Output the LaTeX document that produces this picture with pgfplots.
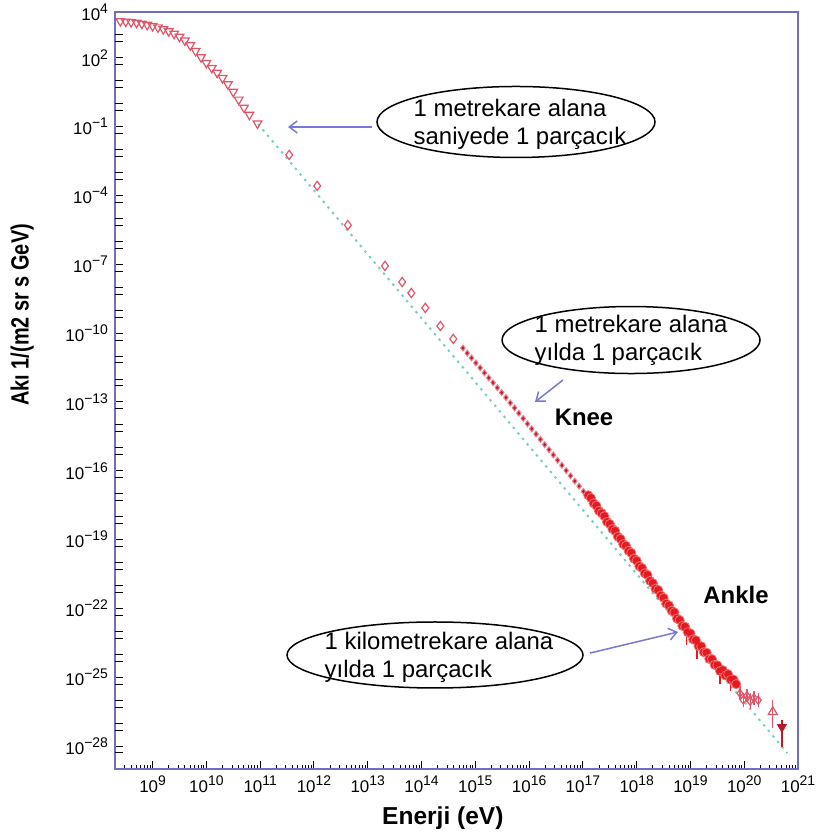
\documentclass[border=0pt]{standalone}
\usepackage{pgfplots}
\pgfplotsset{compat=1.18}
\usepackage{graphicx}
\usepackage{fontspec}
\setmainfont{Liberation Sans}
\usetikzlibrary{arrows.meta}
\definecolor{framec}{RGB}{110,110,200}
\definecolor{arrowc}{RGB}{120,120,215}
\definecolor{trired}{RGB}{225,85,105}
\definecolor{dotred}{RGB}{185,25,45}
\definecolor{dothalo}{RGB}{240,130,140}
\definecolor{bandred}{RGB}{230,25,30}
\definecolor{refline}{RGB}{120,205,195}
\newcommand\tl[2]{#1\raisebox{0.42em}{\fontsize{7}{8}\selectfont #2}}
\begin{document}
\begin{tikzpicture}
\begin{axis}[
  xmode=log, ymode=log,
  scale only axis, width=341.5bp, height=378.5bp,
  xmin=2e8, xmax=1e21, ymin=1e-29, ymax=1e4,
  axis line style={draw=framec, line width=0.9bp},
  tick style={black, line width=0.5bp},
  major tick length=4bp, minor tick length=2bp,
  tick align=inside, tick pos=left,
  xtick={1e9,1e10,1e11,1e12,1e13,1e14,1e15,1e16,1e17,1e18,1e19,1e20,1e21},
  xticklabels={\tl{10}{9},\tl{10}{10},\tl{10}{11},\tl{10}{12},\tl{10}{13},\tl{10}{14},\tl{10}{15},\tl{10}{16},\tl{10}{17},\tl{10}{18},\tl{10}{19},\tl{10}{20},\tl{10}{21}},
  minor xtick={3e8,4e8,5e8,6e8,7e8,8e8,9e8,
    2e9,3e9,4e9,5e9,6e9,7e9,8e9,9e9,
    2e10,3e10,4e10,5e10,6e10,7e10,8e10,9e10,
    2e11,3e11,4e11,5e11,6e11,7e11,8e11,9e11,
    2e12,3e12,4e12,5e12,6e12,7e12,8e12,9e12,
    2e13,3e13,4e13,5e13,6e13,7e13,8e13,9e13,
    2e14,3e14,4e14,5e14,6e14,7e14,8e14,9e14,
    2e15,3e15,4e15,5e15,6e15,7e15,8e15,9e15,
    2e16,3e16,4e16,5e16,6e16,7e16,8e16,9e16,
    2e17,3e17,4e17,5e17,6e17,7e17,8e17,9e17,
    2e18,3e18,4e18,5e18,6e18,7e18,8e18,9e18,
    2e19,3e19,4e19,5e19,6e19,7e19,8e19,9e19,
    2e20,3e20,4e20,5e20,6e20,7e20,8e20,9e20},
  ytick={1e-28,1e-25,1e-22,1e-19,1e-16,1e-13,1e-10,1e-7,1e-4,1e-1,1e2,1e4},
  yticklabels={\tl{10}{−28},\tl{10}{−25},\tl{10}{−22},\tl{10}{−19},\tl{10}{−16},\tl{10}{−13},\tl{10}{−10},\tl{10}{−7},\tl{10}{−4},\tl{10}{−1},\tl{10}{2},\tl{10}{4}},
  minor y tick num=0,
  extra y ticks={1e-27,1e-26,1e-24,1e-23,1e-21,1e-20,1e-18,1e-17,1e-15,1e-14,1e-12,1e-11,1e-9,1e-8,1e-6,1e-5,1e-3,1e-2,1e0,1e1,1e3,
    5e-29,5e-28,5e-27,5e-26,5e-25,5e-24,5e-23,5e-22,5e-21,5e-20,5e-19,5e-18,5e-17,5e-16,5e-15,5e-14,5e-13,5e-12,5e-11,5e-10,5e-9,5e-8,5e-7,5e-6,5e-5,5e-4,5e-3,5e-2,5e-1,5e0,5e1,5e2,5e3},
  extra y tick labels={},
  ticklabel style={font=\fontsize{8.5}{10}\selectfont},
  clip=false,
]
% reference power-law line
\addplot[refline, line width=1bp, dash pattern=on 1.2bp off 2.4bp] coordinates {(9.120e10,0.1318) (6.310e20,5.012e-29)};
% low-energy open triangles
\addplot[only marks, color=trired, mark=triangle, mark size=2.5bp, mark options={rotate=180, line width=0.6bp}] coordinates {
(2.512e8,3981) (3.162e8,3802) (3.981e8,3631) (5.012e8,3388) (6.310e8,3090) (7.943e8,2754)
(1e9,2455) (1.259e9,2138) (1.585e9,1778) (1.995e9,1445) (2.512e9,1122) (3.162e9,831.8)
(3.981e9,575.4) (5.012e9,354.8) (6.310e9,199.5) (7.943e9,107.2) (1e10,60.26) (1.259e10,36.31)
(1.585e10,22.39) (1.995e10,13.18) (2.512e10,7.079) (3.162e10,3.311) (3.981e10,1.514)
(5.012e10,0.6761) (6.310e10,0.3311) (8.913e10,0.1380)};
% open diamonds
\addplot[only marks, color=trired, mark=diamond, mark size=2.3bp, mark options={line width=0.6bp}] coordinates {
(3.467e11,5.888e-3) (1.148e12,2.630e-4) (4.266e12,5.129e-6) (2.089e13,8.511e-8)
(4.365e13,1.698e-8) (6.457e13,5.623e-9) (1.175e14,1.259e-9) (2.239e14,2.042e-10) (3.890e14,5.623e-11)};
% small dots
\addplot[only marks, mark=diamond*, mark size=1.5bp, mark options={draw=dothalo, fill=dotred, line width=0.5bp}] coordinates {
(5.888e14,2.239e-11) (7.079e14,1.349e-11) (8.511e14,8.318e-12) (1.023e15,5.012e-12) (1.230e15,3.090e-12)
(1.479e15,1.862e-12) (1.778e15,1.122e-12) (2.138e15,6.918e-13) (2.570e15,4.169e-13) (3.090e15,2.570e-13)
(3.715e15,1.549e-13) (4.467e15,9.120e-14) (5.370e15,5.495e-14) (6.457e15,3.236e-14) (7.762e15,1.905e-14)
(9.333e15,1.122e-14) (1.122e16,6.761e-15) (1.349e16,3.981e-15) (1.622e16,2.344e-15) (1.950e16,1.380e-15)
(2.344e16,8.318e-16) (2.818e16,4.898e-16) (3.388e16,2.884e-16) (4.074e16,1.738e-16) (4.898e16,1.023e-16)
(5.888e16,6.026e-17) (7.079e16,3.548e-17) (8.511e16,2.138e-17) (1.023e17,1.259e-17) (1.230e17,7.413e-18)};
% dense high-energy band
\addplot[only marks, mark=*, mark size=2.3bp, mark options={draw=bandred!60!white, fill=bandred, line width=0.4bp}] coordinates {
(1.259e17,8.511e-18) (1.413e17,6.457e-18) (1.585e17,3.802e-18) (1.778e17,3.020e-18) (1.995e17,1.778e-18)
(2.239e17,1.413e-18) (2.512e17,1.047e-18) (2.818e17,5.888e-19) (3.162e17,4.786e-19) (3.548e17,2.884e-19)
(3.981e17,2.399e-19) (4.467e17,1.349e-19) (5.012e17,1.072e-19) (5.623e17,6.310e-20) (6.310e17,5.370e-20)
(7.079e17,3.236e-20) (7.943e17,2.630e-20) (8.913e17,1.479e-20) (1.000e18,1.202e-20) (1.122e18,6.918e-21)
(1.259e18,5.754e-21) (1.413e18,3.388e-21) (1.585e18,2.884e-21) (1.778e18,1.585e-21) (1.995e18,1.259e-21)
(2.239e18,7.244e-22) (2.512e18,6.310e-22) (2.818e18,3.631e-22) (3.162e18,2.884e-22) (3.548e18,1.622e-22)
(3.981e18,1.349e-22) (4.467e18,7.943e-23) (5.012e18,6.761e-23) (5.623e18,3.631e-23) (6.310e18,3.090e-23)
(7.079e18,1.738e-23) (7.943e18,1.585e-23) (8.913e18,9.120e-24) (1.000e19,8.128e-24) (1.122e19,4.467e-24)
(1.259e19,4.074e-24) (1.413e19,2.291e-24) (1.585e19,2.239e-24) (1.778e19,1.230e-24) (1.995e19,1.175e-24)
(2.239e19,6.310e-25) (2.512e19,6.166e-25) (2.818e19,3.467e-25) (3.162e19,3.311e-25) (3.548e19,1.862e-25)
(3.981e19,2.042e-25) (4.467e19,1.202e-25) (5.012e19,1.349e-25) (5.623e19,7.762e-26) (6.310e19,7.943e-26)
(7.079e19,5.012e-26)};
% band error bars
\addplot[only marks, color=bandred, mark=*, mark size=1.2bp,
  error bars/.cd, y dir=both, y explicit, error mark=none, error bar style={bandred, line width=0.6bp}]
  table[x=x, y=y, y error plus=ep, y error minus=em] {
x y ep em
8.511e18 1e-23 2.6e-24 7.49e-24
1.318e19 3.548e-24 9.2e-25 2.917e-24
3.548e19 1.995e-25 8.2e-26 1.494e-25
5.623e19 8.913e-26 6.94e-26 6.40e-26
};
% highest-energy scatter
\addplot[only marks, color=trired, mark=diamond, mark size=2bp, mark options={line width=0.6bp},
  error bars/.cd, y dir=both, y explicit, error mark=none, error bar style={trired, line width=0.6bp}]
  table[x=x, y=y, y error plus=ep, y error minus=em] {
x y ep em
8.318e19 1.995e-26 1.99e-26 1.0e-26
9.550e19 1.023e-26 1.02e-26 5.1e-27
1.122e20 1.585e-26 1.58e-26 7.9e-27
1.288e20 8.913e-27 1.10e-26 4.93e-27
1.514e20 1.259e-26 1.25e-26 6.3e-27
1.820e20 1.000e-26 1.0e-26 5.0e-27
};
\addplot[only marks, color=trired, mark=triangle, mark size=2.6bp, mark options={line width=0.6bp},
  error bars/.cd, y dir=both, y explicit, error mark=none, error bar style={trired, line width=0.6bp}]
  table[x=x, y=y, y error plus=ep, y error minus=em] {
x y ep em
3.388e20 3.090e-27 6.9e-27 2.46e-27
};
\addplot[only marks, color=dotred, mark=triangle*, mark size=2.6bp, mark options={rotate=180},
  error bars/.cd, y dir=both, y explicit, error mark=none, error bar style={dotred, line width=0.6bp}]
  table[x=x, y=y, y error plus=ep, y error minus=em] {
x y ep em
5.012e20 6.761e-28 7.0e-28 5.85e-28
};
% annotations
\draw[black, line width=0.75bp] (rel axis cs:0.5871,0.8547) ellipse [x radius=69.5bp, y radius=17.75bp];
\node[align=left, font=\fontsize{12}{14}\selectfont] at (rel axis cs:0.5930,0.8520) {1 metrekare alana\\saniyede 1 parçacık};
\draw[black, line width=0.75bp] (rel axis cs:0.7555,0.5667) ellipse [x radius=64.5bp, y radius=16.75bp];
\node[align=left, font=\fontsize{12}{14}\selectfont] at (rel axis cs:0.7555,0.5667) {1 metrekare alana\\yılda 1 parçacık};
\draw[black, line width=0.75bp] (rel axis cs:0.4685,0.1506) ellipse [x radius=74bp, y radius=16.5bp];
\node[align=left, font=\fontsize{12}{14}\selectfont] at (rel axis cs:0.4744,0.1480) {1 kilometrekare alana\\yılda 1 parçacık};
\draw[arrowc, line width=0.75bp, -{Straight Barb[length=4bp,width=6bp]}] (rel axis cs:0.3763,0.8481) -- (rel axis cs:0.2533,0.8481);
\draw[arrowc, line width=0.75bp, -{Straight Barb[length=4bp,width=6bp]}] (rel axis cs:0.6559,0.5139) -- (rel axis cs:0.6149,0.4848);
\draw[arrowc, line width=0.75bp, -{Straight Barb[length=4bp,width=6bp]}] (rel axis cs:0.6955,0.1532) -- (rel axis cs:0.8243,0.1810);
\node[font=\bfseries\fontsize{12}{14}\selectfont] at (rel axis cs:0.6867,0.4650) {Knee};
\node[font=\bfseries\fontsize{12}{14}\selectfont] at (rel axis cs:0.9092,0.2299) {Ankle};
\node[font=\bfseries\fontsize{12.3}{14}\selectfont] at (rel axis cs:0.48,0) [yshift=-24.5bp] {Enerji (eV)};
\node[rotate=90, font=\bfseries\fontsize{12.5}{14}\selectfont] at (rel axis cs:-0.136,0.600) {\scalebox{0.8}[1]{Akı 1/(m2 sr s GeV)}};
\end{axis}
\pgfresetboundingbox
\path[use as bounding box] ([xshift=-57.5bp,yshift=-33.5bp]current axis.south west) rectangle ([xshift=18bp,yshift=6bp]current axis.north east);
\end{tikzpicture}
\end{document}
